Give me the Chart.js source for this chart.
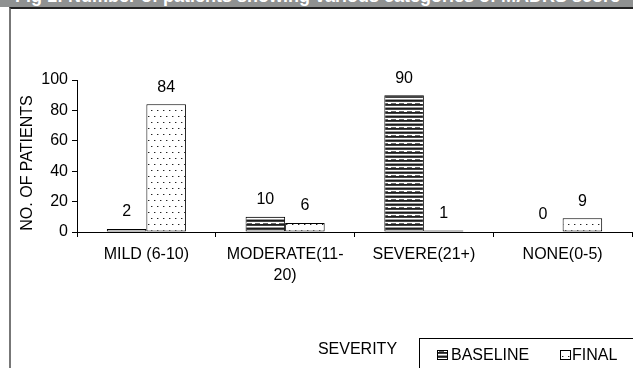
<!DOCTYPE html>
<html>
<head>
<meta charset="utf-8">
<script src="https://cdn.jsdelivr.net/npm/chart.js@4/dist/chart.umd.min.js"></script>
<style>
  body { margin: 0; background: #fff; }
  #wrap { position: relative; width: 633px; height: 368px; overflow: hidden; }
  #band { position: absolute; left: 0; top: 0; width: 633px; height: 7px; background: #8f9191; overflow: hidden; }
  #band span { position: absolute; left: 15px; top: -13px; white-space: nowrap; color: #fff; font: bold 18px "Liberation Sans", Arial, sans-serif; line-height: 18px; }
  #frame { position: absolute; left: 9px; top: 7px; width: 640px; height: 380px; border-top: 2px solid #222; border-left: 2px solid #777; }
  canvas { position: absolute; left: 0; top: 0; }
</style>
</head>
<body>
<div id="wrap">
  <div id="band"><span>Fig 1: Number of patients showing various categories of MADRS score</span></div>
  <div id="frame"></div>
  <canvas id="myChart" width="633" height="368"></canvas>
</div>
<script>
const categories = ['MILD (6-10)', ['MODERATE(11-', '20)'], 'SEVERE(21+)', 'NONE(0-5)'];
const baseline = [2, 10, 90, 0];
const finalValues = [84, 6, 1, 9];
const yTicks = [0, 20, 40, 60, 80, 100];
const seriesNames = ['BASELINE', 'FINAL'];

const FONT = '"Liberation Sans", Arial, sans-serif';

// horizontal line fill for baseline
const makeStripes = () => {
  const c = document.createElement('canvas');
  c.width = 16; c.height = 8;
  const g = c.getContext('2d');
  g.fillStyle = '#fff'; g.fillRect(0, 0, 16, 8);
  g.fillStyle = '#1c1c1c'; g.fillRect(0, 0, 16, 1); g.fillRect(0, 4, 16, 1);
  g.fillStyle = '#444'; g.fillRect(0, 1, 16, 1); g.fillRect(0, 5, 16, 1);
  g.fillStyle = '#999'; g.fillRect(0, 3, 16, 1);
  g.fillStyle = '#666'; g.fillRect(0, 7, 16, 1);
  g.fillStyle = '#fff'; g.fillRect(4, 7, 3, 1); g.fillRect(12, 7, 3, 1);
  return g.createPattern(c, 'repeat');
};

// dotted fill for final
const makeDots = () => {
  const c = document.createElement('canvas');
  c.width = 6; c.height = 12;
  const g = c.getContext('2d');
  g.fillStyle = '#fff'; g.fillRect(0, 0, 6, 12);
  g.fillStyle = '#222';
  g.fillRect(1, 2, 1, 1);
  g.fillRect(4, 8, 1, 1);
  g.fillStyle = '#aaa';
  g.fillRect(2, 2, 1, 1);
  g.fillRect(5, 8, 1, 1);
  return g.createPattern(c, 'repeat');
};

const stripes = makeStripes();
const dots = makeDots();

const swatch = (ctx, x, y, w, h, fill) => {
  ctx.fillStyle = fill;
  ctx.fillRect(x, y, w, h);
  ctx.strokeStyle = '#000';
  ctx.lineWidth = 1;
  ctx.strokeRect(x + 0.5, y + 0.5, w - 1, h - 1);
};

const extras = {
  id: 'extras',
  afterDatasetsDraw(chart) {
    const ctx = chart.ctx;
    ctx.save();
    ctx.fillStyle = '#000';
    ctx.font = '16px ' + FONT;
    ctx.textAlign = 'center';
    ctx.textBaseline = 'middle';
    chart.data.datasets.forEach((ds, i) => {
      chart.getDatasetMeta(i).data.forEach((bar, j) => {
        ctx.fillText(String(ds.data[j]), bar.x, bar.y - 17);
      });
    });

    // y axis title
    ctx.save();
    ctx.translate(28, 163);
    ctx.rotate(-Math.PI / 2);
    ctx.fillText('NO. OF PATIENTS', 0, 0);
    ctx.restore();

    // x axis title
    const xs = chart.scales.x;
    ctx.fillText('SEVERITY', (xs.left + xs.right) / 2 + 3, 350);

    // legend box
    ctx.strokeStyle = '#000';
    ctx.lineWidth = 1;
    ctx.strokeRect(419.5, 338.5, 240, 40);
    ctx.textAlign = 'left';
    swatch(ctx, 437, 350, 11, 10, stripes);
    ctx.fillStyle = '#000';
    ctx.fillText(seriesNames[0], 451, 356);
    swatch(ctx, 560, 350, 11, 10, dots);
    ctx.fillStyle = '#000';
    ctx.fillText(seriesNames[1], 572, 356);
    ctx.restore();
  }
};

new Chart(document.getElementById('myChart'), {
  type: 'bar',
  data: {
    labels: categories,
    datasets: [
      {
        label: seriesNames[0],
        data: baseline,
        backgroundColor: stripes,
        borderColor: '#000',
        borderWidth: ctx => (ctx.raw === 0 ? 0 : 1),
        borderSkipped: false,
        categoryPercentage: 0.57,
        barPercentage: 1.0,
      },
      {
        label: seriesNames[1],
        data: finalValues,
        backgroundColor: dots,
        borderColor: '#000',
        borderWidth: ctx => (ctx.raw === 0 ? 0 : 1),
        borderSkipped: false,
        categoryPercentage: 0.57,
        barPercentage: 1.0,
      }
    ]
  },
  options: {
    responsive: false,
    animation: false,
    layout: { padding: { left: 0, right: 1, top: 80, bottom: 0 } },
    plugins: { legend: { display: false }, tooltip: { enabled: false } },
    scales: {
      x: {
        grid: { display: true, drawOnChartArea: false, tickLength: 5, color: '#000', offset: true },
        border: { color: '#000' },
        ticks: { color: '#000', font: { family: FONT, size: 16, lineHeight: 1.3 }, padding: 7, maxRotation: 0, autoSkip: false },
        afterFit: s => { s.height = 136; }
      },
      y: {
        min: 0,
        max: 100,
        afterBuildTicks: s => { s.ticks = yTicks.map(v => ({ value: v })); },
        grid: { drawOnChartArea: false, tickLength: 5, color: '#000' },
        border: { color: '#000' },
        ticks: { color: '#000', font: { family: FONT, size: 16 }, padding: 4 },
        afterFit: s => { s.width = 77; }
      }
    }
  },
  plugins: [extras]
});
</script>
</body>
</html>
